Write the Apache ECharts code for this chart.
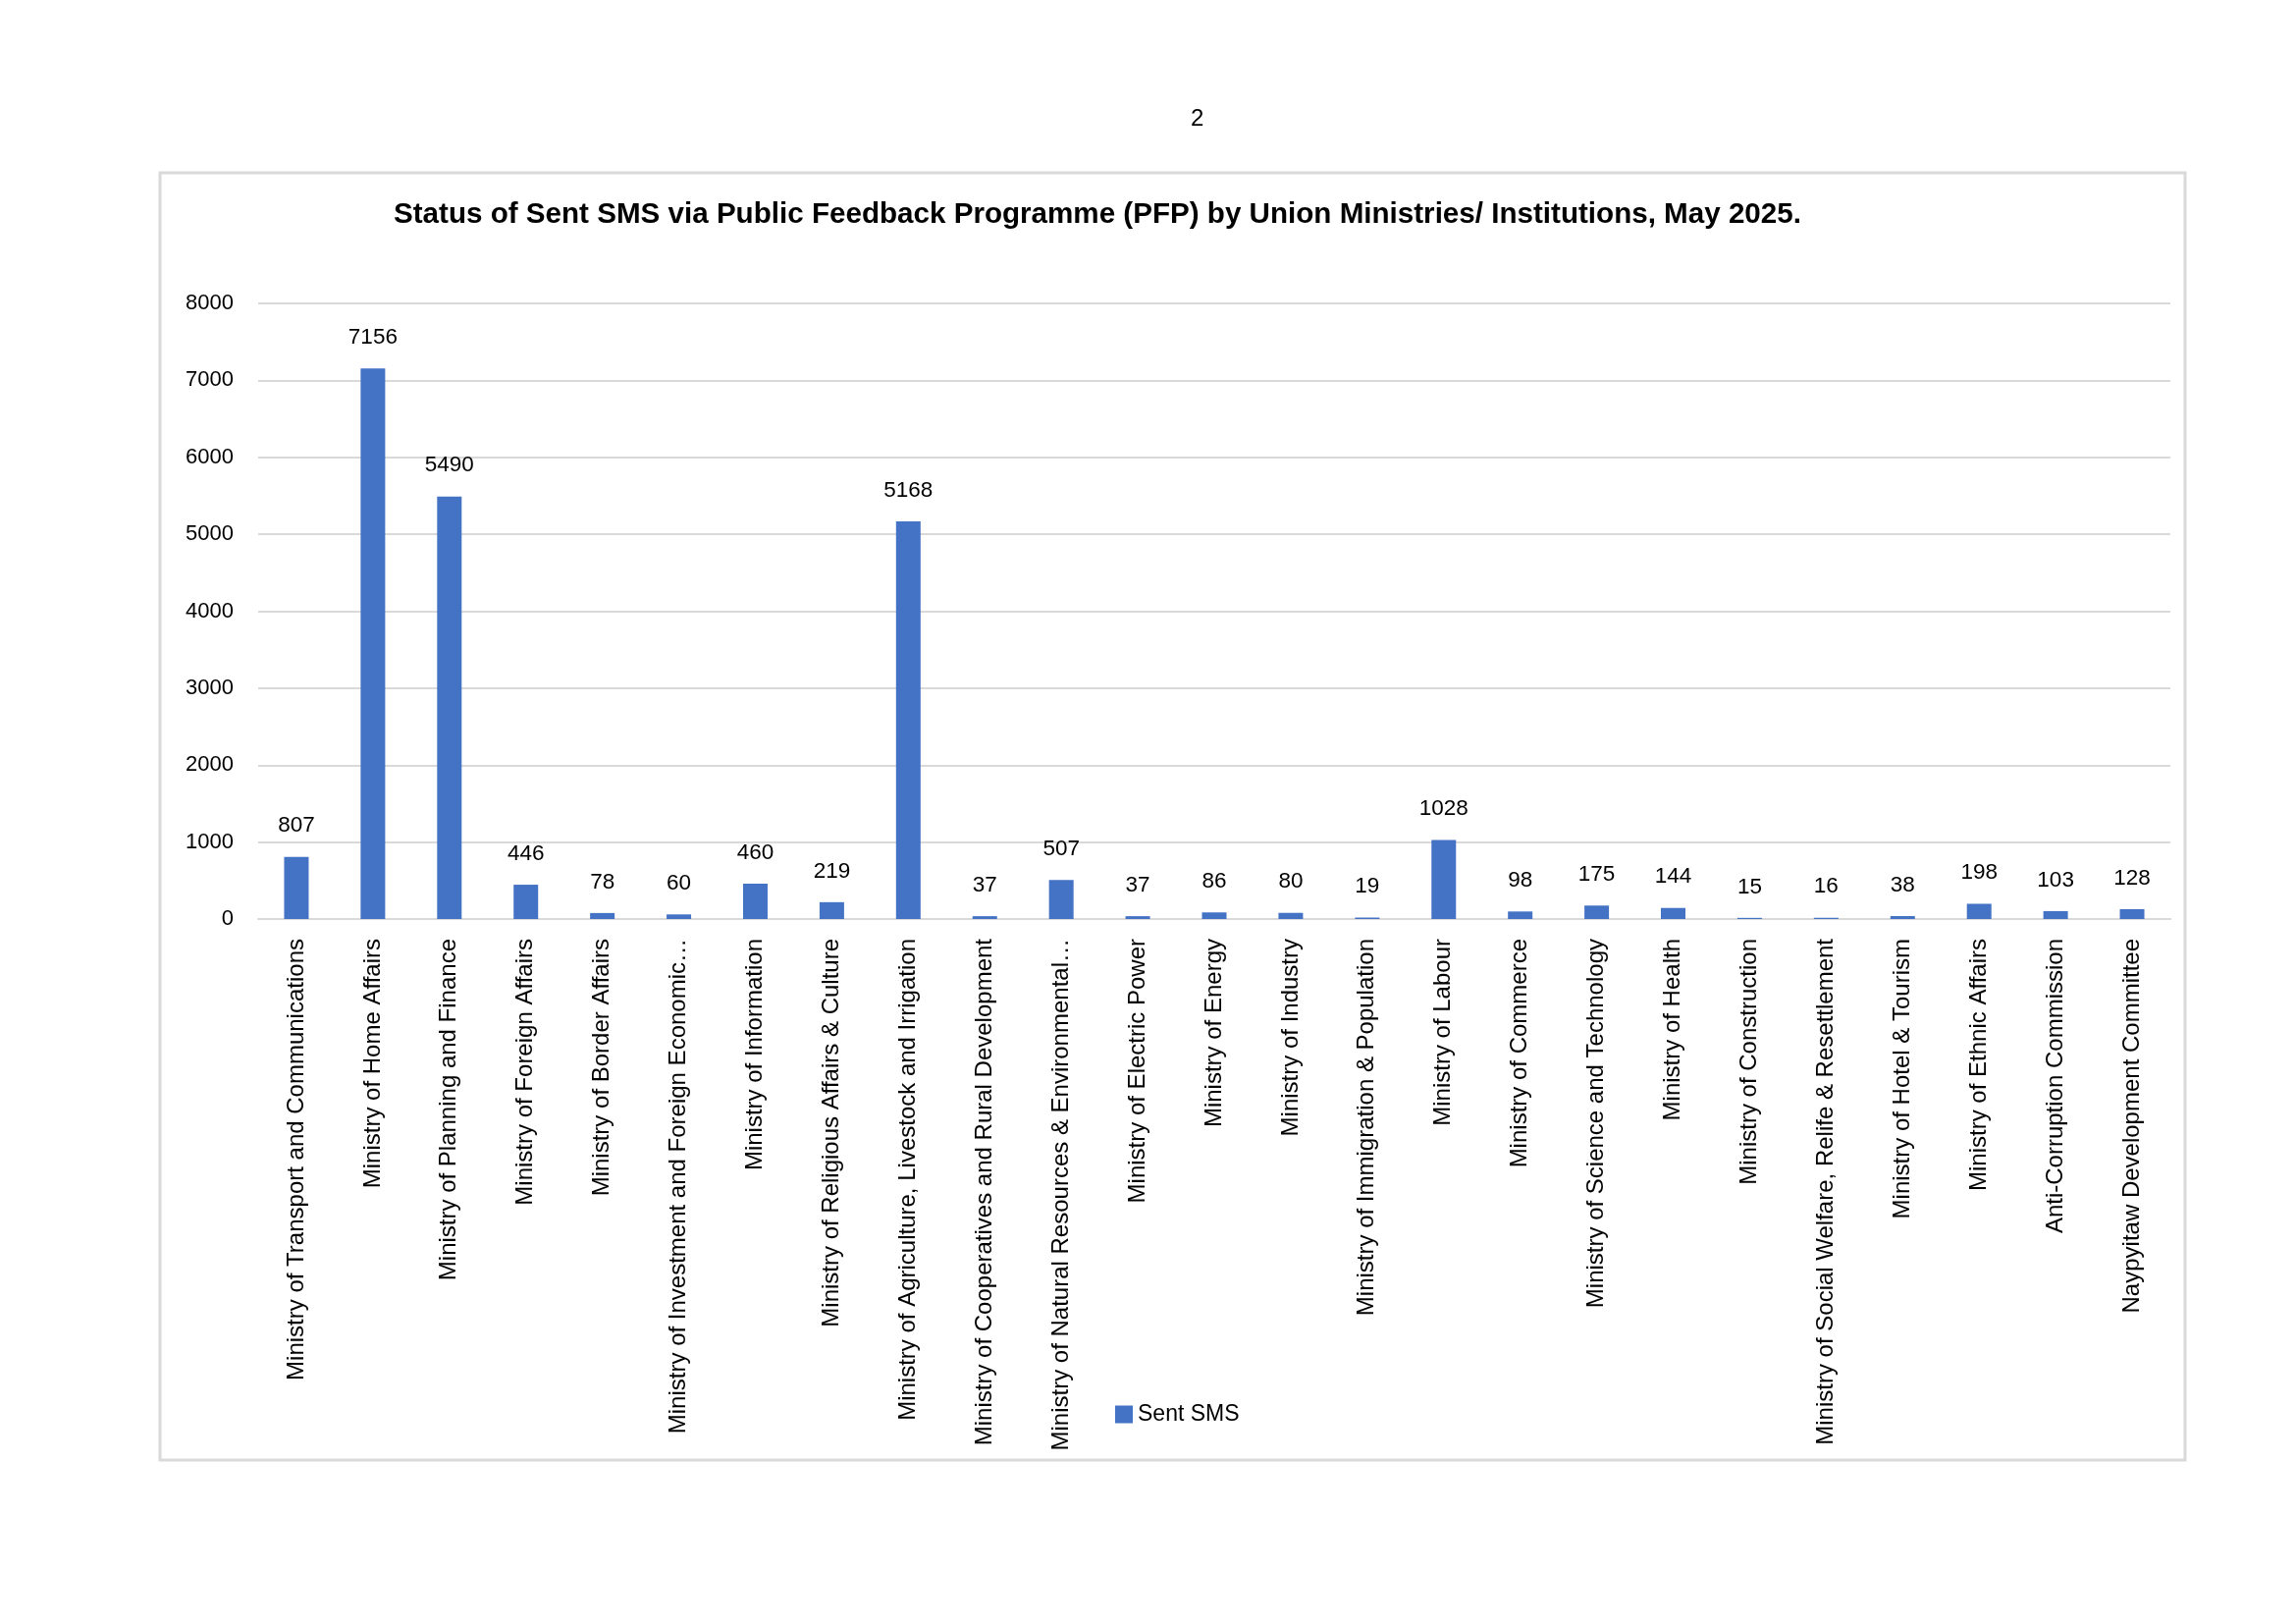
<!DOCTYPE html>
<html><head><meta charset="utf-8">
<script src="https://cdn.jsdelivr.net/npm/echarts@6/dist/echarts.min.js"></script>
<style>html,body{margin:0;padding:0;background:#fff}#c{width:2339px;height:1654px}</style>
</head><body><div id="c"></div>
<script>
const categories = [
  "Ministry of Transport and Communications",
  "Ministry of Home Affairs",
  "Ministry of Planning and Finance",
  "Ministry of Foreign Affairs",
  "Ministry of Border Affairs",
  "Ministry of Investment and Foreign Economic…",
  "Ministry of Information",
  "Ministry of Religious Affairs & Culture",
  "Ministry of Agriculture, Livestock and Irrigation",
  "Ministry of Cooperatives and Rural Development",
  "Ministry of Natural Resources & Environmental…",
  "Ministry of Electric Power",
  "Ministry of Energy",
  "Ministry of Industry",
  "Ministry of Immigration & Population",
  "Ministry of Labour",
  "Ministry of Commerce",
  "Ministry of Science and Technology",
  "Ministry of Health",
  "Ministry of Construction",
  "Ministry of Social Welfare, Relife & Resettlement",
  "Ministry of Hotel & Tourism",
  "Ministry of Ethnic Affairs",
  "Anti-Corruption Commission",
  "Naypyitaw Development Committee"
];
const sentSMS = [807, 7156, 5490, 446, 78, 60, 460, 219, 5168, 37, 507, 37, 86, 80, 19, 1028, 98, 175, 144, 15, 16, 38, 198, 103, 128];
const seriesName = "Sent SMS";
const yTicks = [0, 1000, 2000, 3000, 4000, 5000, 6000, 7000, 8000];
const titleText = "Status of Sent SMS via Public Feedback Programme (PFP) by Union Ministries/ Institutions, May 2025.";
const pageNumber = "2";

const FONT = "'Liberation Sans', Arial, sans-serif";
const chart = echarts.init(document.getElementById('c'), null, {renderer: 'canvas'});
chart.setOption({
  backgroundColor: '#ffffff',
  animation: false,
  title: {
    text: titleText,
    left: 396, top: 199,
    textStyle: {fontFamily: FONT, fontSize: 29.6, fontWeight: 'bold', color: '#000000'}
  },
  graphic: [
    {type: 'rect', shape: {x: 163, y: 176, width: 2063, height: 1311},
     style: {fill: 'none', stroke: '#d9d9d9', lineWidth: 3}, silent: true},
    {type: 'text', left: 1213, top: 109,
     style: {text: pageNumber, fontFamily: FONT, fontSize: 24, fill: '#000000'}}
  ],
  legend: {
    data: [seriesName],
    left: 1131, top: 1424,
    icon: 'rect', itemWidth: 18, itemHeight: 18, itemGap: 10,
    textStyle: {fontFamily: FONT, fontSize: 23, color: '#000000'}
  },
  grid: {left: 263, right: 128, top: 309, bottom: 1654 - 936, containLabel: false},
  xAxis: {
    type: 'category',
    data: categories,
    axisLine: {show: true, lineStyle: {color: '#d9d9d9', width: 2}},
    axisTick: {show: false},
    axisLabel: {interval: 0, rotate: 90, margin: 20, fontFamily: FONT, fontSize: 24, color: '#000000'}
  },
  yAxis: {
    type: 'value',
    min: yTicks[0], max: yTicks[yTicks.length - 1], interval: yTicks[1] - yTicks[0],
    axisLine: {show: false}, axisTick: {show: false},
    splitLine: {lineStyle: {color: '#d9d9d9', width: 2}},
    axisLabel: {margin: 25, fontFamily: FONT, fontSize: 22, color: '#000000', formatter: function (v) { return String(v); }}
  },
  series: [{
    name: seriesName,
    type: 'bar',
    data: sentSMS,
    barWidth: 25,
    itemStyle: {color: '#4472c4'},
    label: {show: true, position: 'top', distance: 20, fontFamily: FONT, fontSize: 22.5, color: '#000000'}
  }]
});
</script></body></html>
